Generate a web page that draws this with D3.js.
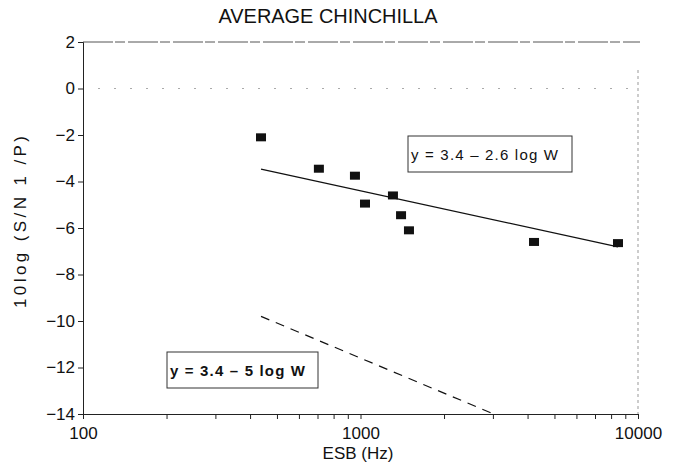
<!DOCTYPE html>
<html>
<head>
<meta charset="utf-8">
<script src="https://cdn.jsdelivr.net/npm/d3@7"></script>
<style>
  body { margin: 0; background: #fff; }
  text { font-family: "Liberation Sans", Arial, sans-serif; fill: #111; }
</style>
</head>
<body>
<script>
// datos
var esb = [438, 708, 955, 1038, 1309, 1400, 1495, 4220, 8470];
var snr = [-2.1, -3.45, -3.75, -4.95, -4.6, -5.45, -6.1, -6.6, -6.65];

var fitSolid = [[438, -3.47], [8470, -6.81]];
var fitDashed = [[438, -9.8], [3020, -14]];

var xTickLabels = [100, 1000, 10000];
var xMinor = [200, 300, 400, 500, 600, 700, 800, 900, 2000, 3000, 4000, 5000, 6000, 7000, 8000, 9000];
var yTicks = [2, 0, -2, -4, -6, -8, -10, -12, -14];

var w = 679;
var h = 465;
var pLeft = 83, pRight = 638, pTop = 42, pBottom = 414;

var svg = d3.select("body").append("svg");
svg.attr("width", w).attr("height", h);

//escalas
var xScale = d3.scaleLog()
  .domain([100, 10000])
  .range([pLeft, pRight]);

var yScale = d3.scaleLinear()
  .domain([-14, 2])
  .range([pBottom, pTop]);

// marco superior / derecho (tenue)
svg.append("line")
  .attr("x1", pLeft).attr("x2", pRight + 2)
  .attr("y1", pTop).attr("y2", pTop)
  .attr("stroke", "#555").attr("stroke-width", 1)
  .attr("stroke-dasharray", "30,2,10,3");
svg.append("line")
  .attr("x1", pRight).attr("x2", pRight)
  .attr("y1", pTop + 28).attr("y2", pBottom)
  .attr("stroke", "#999").attr("stroke-width", 1)
  .attr("stroke-dasharray", "3,3");

// linea punteada en 0
svg.append("line")
  .attr("x1", pLeft + 15).attr("x2", pRight)
  .attr("y1", yScale(0)).attr("y2", yScale(0))
  .attr("stroke", "#aaa").attr("stroke-width", 1)
  .attr("stroke-dasharray", "2,14");

//ejes
var yAxis = d3.axisLeft(yScale)
  .tickValues(yTicks)
  .tickSize(5)
  .tickFormat(function(d){ return d < 0 ? "\u2212" + Math.abs(d) : d; });

svg.append("g")
  .attr("class", "axis")
  .attr("transform", "translate(" + pLeft + ",0)")
  .call(yAxis)
  .call(function(g){
    g.select(".domain").attr("stroke", "#222");
    g.selectAll("line").attr("stroke", "#222");
    g.selectAll("text")
      .attr("font-size", "17px")
      .attr("font-family", "Liberation Sans, Arial, sans-serif")
      .attr("fill", "#111")
      .attr("x", -8);
  });

var xAxis = d3.axisBottom(xScale)
  .tickValues(xTickLabels.concat(xMinor))
  .tickSize(5)
  .tickFormat(function(d){ return xTickLabels.indexOf(d) >= 0 ? d : ""; });

svg.append("g")
  .attr("class", "axis")
  .attr("transform", "translate(0," + pBottom + ")")
  .call(xAxis)
  .call(function(g){
    g.select(".domain").attr("stroke", "#222");
    g.selectAll("line").attr("stroke", "#222");
    g.selectAll("text")
      .attr("font-size", "17px")
      .attr("font-family", "Liberation Sans, Arial, sans-serif")
      .attr("fill", "#111")
      .attr("dy", "1em");
  });

// lineas de ajuste
var line = d3.line()
  .x(function(d){ return xScale(d[0]); })
  .y(function(d){ return yScale(d[1]); });

svg.append("path")
  .datum(fitSolid)
  .attr("d", line)
  .attr("fill", "none")
  .attr("stroke", "#111")
  .attr("stroke-width", 1.3);

svg.append("path")
  .datum(fitDashed)
  .attr("d", line)
  .attr("fill", "none")
  .attr("stroke", "#111")
  .attr("stroke-width", 1.2)
  .attr("stroke-dasharray", "9,7");

// puntos
svg.selectAll("rect.pt")
  .data(esb)
  .enter()
  .append("rect")
  .attr("class", "pt")
  .attr("x", function(d){ return xScale(d) - 5; })
  .attr("y", function(d, i){ return yScale(snr[i]) - 4; })
  .attr("width", 10)
  .attr("height", 8)
  .attr("fill", "#111");

// cajas de texto
function box(x, y, bw, bh, label, bold, tl) {
  svg.append("rect")
    .attr("x", x).attr("y", y)
    .attr("width", bw).attr("height", bh)
    .attr("fill", "#fff")
    .attr("stroke", "#333")
    .attr("stroke-width", 1);
  svg.append("text")
    .attr("x", x + 3)
    .attr("y", y + bh / 2 + 6)
    .attr("font-size", "15px")
    .attr("font-weight", bold ? "bold" : "normal")
    .attr("textLength", tl)
    .attr("lengthAdjust", "spacing")
    .text(label);
}
box(408, 136, 164, 36, "y = 3.4 \u2013 2.6 log W", false, 147);
box(167, 352, 151, 36, "y = 3.4 \u2013 5 log W", true, 135);

// titulos
svg.append("text")
  .attr("x", 328)
  .attr("y", 23)
  .attr("text-anchor", "middle")
  .attr("font-size", "20px")
  .attr("textLength", 219)
  .attr("lengthAdjust", "spacingAndGlyphs")
  .text("AVERAGE CHINCHILLA");

svg.append("text")
  .attr("x", 358)
  .attr("y", 459)
  .attr("text-anchor", "middle")
  .attr("font-size", "17px")
  .text("ESB (Hz)");

svg.append("text")
  .attr("transform", "translate(26,222) rotate(-90)")
  .attr("text-anchor", "middle")
  .attr("font-size", "17px")
  .attr("textLength", 172)
  .attr("lengthAdjust", "spacing")
  .text("10log (S/N 1 /P)");
</script>
</body>
</html>
